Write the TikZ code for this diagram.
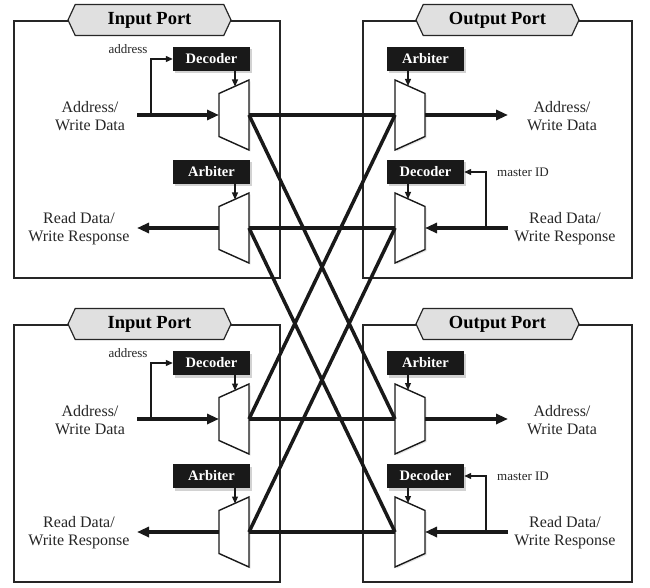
\documentclass[tikz,border=0pt]{standalone}
\usepackage{fontspec}
\setmainfont{Liberation Serif}
\usepackage{tikz}
\usetikzlibrary{shadows}
\usetikzlibrary{shapes.symbols}
\usetikzlibrary{arrows.meta}
\usetikzlibrary{positioning}

\begin{document}
\begin{tikzpicture}[x=1pt, y=-1pt,
        frame/.style={draw=black!85, line width=1.6pt},
        title/.style={shape=signal, signal to=west and east, signal pointer angle=130, draw=black!85, fill=black!12, line width=1.2pt, minimum width=163pt, minimum height=31pt, inner sep=2pt, font=\bfseries\fontsize{18.5}{20}\selectfont},
        ctrl/.style={rectangle, fill=black!90, text=white, minimum width=77pt, minimum height=24pt, inner sep=1pt, font=\bfseries\fontsize{14.5}{16}\selectfont, drop shadow={shadow xshift=2pt, shadow yshift=-2.5pt, fill=black!35}},
        lbl/.style={align=center, inner sep=0pt, text=black!85, font=\fontsize{16}{18}\selectfont},
        small/.style={inner sep=0pt, text=black!85, font=\fontsize{13}{15}\selectfont},
        bus/.style={draw=black!90, line width=3.5pt},
        busarrow/.style={bus, -{Triangle[length=12pt,width=10pt]}},
        sig/.style={draw=black!90, line width=1.2pt, -{Triangle[length=7pt,width=6pt]}},
        mux/.style={draw=black!90, fill=white, line width=1.4pt, line join=miter, drop shadow={shadow xshift=1.5pt, shadow yshift=-1.5pt, fill=black!20}}
      ]
        \useasboundingbox (0,0) rectangle (650,588);

        \foreach \oy/\i in {0/1, 304/2} {
        \begin{scope}[shift={(0,\oy)}]
        % input port
        \draw[frame] (14,21) rectangle (280,278);
        \node[title]  (tin\i)   at (149.5,20)  {Input Port};
        \node[ctrl]   (idec\i)  at (211.5,59)  {Decoder};
        \node[ctrl]   (iarb\i)  at (211.5,172) {Arbiter};

        \coordinate (ia\i-w)   at (219,115);
        \coordinate (ia\i-e)   at (249,115);
        \coordinate (ia\i-top) at (235,86.5);
        \coordinate (ir\i-w)   at (219,228);
        \coordinate (ir\i-e)   at (249,228);
        \coordinate (ir\i-top) at (235,199.5);
        \coordinate (ia\i-src) at (137,115);
        \coordinate (ia\i-tap) at (151,115);
        \coordinate (ir\i-dst) at (137,228);

        \draw[mux] (219,93.5) -- (249,80) -- (249,150) -- (219,136.5) -- cycle;
        \draw[mux] (219,206.5) -- (249,193) -- (249,263) -- (219,249.5) -- cycle;

        \draw[sig] (idec\i.south -| ia\i-top) -- (ia\i-top);
        \draw[sig] (iarb\i.south -| ir\i-top) -- (ir\i-top);
        \draw[busarrow] (ia\i-src) -- (ia\i-w);
        \draw[sig] (ia\i-tap) |- (idec\i.west);
        \draw[busarrow] (ir\i-w) -- (ir\i-dst);

        \node[small]  (iaddr\i) at (128,49)   {address};
        \node[lbl]    (iawd\i)  at (90,116)   {Address/\\Write Data};
        \node[lbl]    (irwr\i)  at (79,229)   {Read Data/\\Write Response};

        % output port
        \draw[frame] (363,21) rectangle (632,278);
        \node[title]  (tout\i)  at (497.5,20)  {Output Port};
        \node[ctrl]   (oarb\i)  at (425.5,59)  {Arbiter};
        \node[ctrl]   (odec\i)  at (425.5,172) {Decoder};

        \coordinate (oa\i-w)   at (395,115);
        \coordinate (oa\i-e)   at (425,115);
        \coordinate (oa\i-top) at (408,86);
        \coordinate (or\i-w)   at (395,228);
        \coordinate (or\i-e)   at (425,228);
        \coordinate (or\i-top) at (408,199);
        \coordinate (oa\i-dst) at (508,115);
        \coordinate (or\i-src) at (508,228);
        \coordinate (or\i-tap) at (486,228);

        \draw[mux] (395,80) -- (425,93.5) -- (425,136.5) -- (395,150) -- cycle;
        \draw[mux] (395,193) -- (425,206.5) -- (425,249.5) -- (395,263) -- cycle;

        \draw[sig] (oarb\i.south -| oa\i-top) -- (oa\i-top);
        \draw[sig] (odec\i.south -| or\i-top) -- (or\i-top);
        \draw[busarrow] (oa\i-e) -- (oa\i-dst);
        \draw[busarrow] (or\i-src) -- (or\i-e);
        \draw[sig] (or\i-tap) |- (odec\i.east);

        \node[small]  (omid\i)  at (523,172)  {master ID};
        \node[lbl]    (oawd\i)  at (562,116)  {Address/\\Write Data};
        \node[lbl]    (orwr\i)  at (565,229)  {Read Data/\\Write Response};
        \end{scope}
        }

        % crossbar
        \foreach \a in {1,2} {
          \foreach \b in {1,2} {
            \draw[bus] (ia\a-e) -- (oa\b-w);
            \draw[bus] (ir\a-e) -- (or\b-w);
          }
        }
      \end{tikzpicture}
\end{document}
